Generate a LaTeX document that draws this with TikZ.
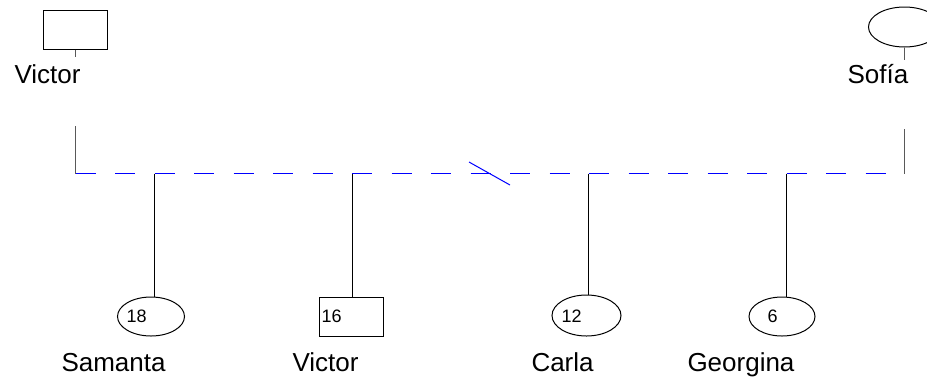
\documentclass[tikz,border=0pt]{standalone}
\usepackage{fontspec}
\setmainfont{Liberation Sans}
\usetikzlibrary{shapes.geometric}
\definecolor{coupleblue}{RGB}{0,0,255}
\begin{document}
\begin{tikzpicture}[x=1pt, y=-1pt, line width=1pt,
	male/.style = {draw, rectangle, minimum width=64pt, minimum height=39pt, inner sep=0pt},
	female/.style = {draw, ellipse, minimum width=67pt, minimum height=39pt, inner sep=0pt},
	person/.style = {anchor=base west, inner sep=0pt, font=\fontsize{26}{30}\selectfont},
	years/.style = {anchor=west, inner sep=0pt, font=\fontsize{18}{21}\selectfont},
	stub/.style = {draw=black!65},
	coupleline/.style = {draw=coupleblue, line width=1.2pt}]
			\useasboundingbox (0,0) rectangle (927,376);
			% parents
			\node[male] (1) at (75.5,29.5) {};
			\node[person] (1n) at (14,83) {Victor};
			\node[female, minimum width=72pt, minimum height=40pt] (2) at (904.5,27) {};
			\node[person] (2n) at (847,83) {Sofía};
			\coordinate (1s) at (75.5,57);
			\coordinate (2s) at (904.5,60);
			\coordinate (1d) at (75.5,126);
			\coordinate (2d) at (904.5,129);
			\coordinate (1j) at (75.5,173.5);
			\coordinate (2j) at (904.5,173.5);
			% children
			\node[female] (3) at (151,316.5) {};
			\node[years] (3a) at (126,316.5) {18};
			\node[person] (3n) at (61,371) {Samanta};
			\node[male] (4) at (351.5,316.5) {};
			\node[years] (4a) at (321,316.5) {16};
			\node[person] (4n) at (292,371) {Victor};
			\node[female, minimum width=69pt, minimum height=41pt] (5) at (586.5,315.5) {};
			\node[years] (5a) at (561,316.5) {12};
			\node[person] (5n) at (531,371) {Carla};
			\node[female, minimum width=66pt] (6) at (782,316.5) {};
			\node[years] (6a) at (767,316.5) {6};
			\node[person] (6n) at (687,371) {Georgina};
			\coordinate (3j) at (154.5,173.5);
			\coordinate (4j) at (352.5,173.5);
			\coordinate (5j) at (588.5,173.5);
			\coordinate (6j) at (786.5,173.5);
			% separation mark
			\coordinate (b1) at (469,162);
			\coordinate (b2) at (510,185);
			\draw[stub] (1.south) -- (1s);
			\draw[stub] (2.south) -- (2s);
			\draw[stub] (1d) -- (1j);
			\draw[stub] (2d) -- (2j);
			% couple line, one dash at a time
			\foreach \k in {0,...,20}
				\path[coupleline] (1j) ++(39.5*\k,0) -- ++(20,0);
			\draw[coupleblue] (b1) -- (b2);
			\draw (3j) -- (3j |- 3.north);
			\draw (4j) -- (4j |- 4.north);
			\draw (5j) -- (5j |- 5.north);
			\draw (6j) -- (6j |- 6.north);
		\end{tikzpicture}
\end{document}
